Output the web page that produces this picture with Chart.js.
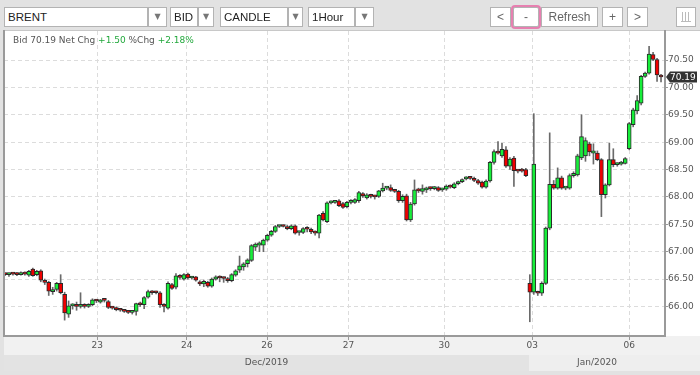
<!DOCTYPE html>
<html><head><meta charset="utf-8">
<script src="https://cdn.jsdelivr.net/npm/chart.js@4.4.1/dist/chart.umd.min.js"></script>
<style>
html,body{margin:0;padding:0;background:#e4e4e4;}
#wrap{position:relative;width:700px;height:375px;overflow:hidden;}
#c{position:absolute;left:0;top:0;}
.sel,.dd,.btn{position:absolute;top:7px;height:20px;box-sizing:border-box;background:#fff;border:1px solid #b3b3b3;font-family:"Liberation Sans",Arial,sans-serif;}
.sel{font-size:11.5px;line-height:18px;color:#222;padding-left:3px;}
.dd{font-family:"DejaVu Sans";font-size:8px;line-height:18px;color:#777;text-align:center;}
.btn{font-size:12px;line-height:18px;color:#666;text-align:center;}
.hl{box-shadow:0 0 0 2px #e680b0;border-radius:2px;}
#hdr{position:absolute;left:13px;top:35px;font-family:"DejaVu Sans";font-size:9px;line-height:11px;color:#555;white-space:pre;}
#hdr .g{color:#22a83c;}
.ic{position:absolute;top:4px;width:1px;height:9px;background:#bbb;}
</style></head>
<body>
<div id="wrap">
<canvas id="c" width="700" height="375"></canvas>
<div class="sel" style="left:4px;width:144px;">BRENT</div><div class="dd" style="left:148px;width:19px;">▼</div>
<div class="sel" style="left:170px;width:28px;">BID</div><div class="dd" style="left:198px;width:16px;">▼</div>
<div class="sel" style="left:220px;width:68px;">CANDLE</div><div class="dd" style="left:288px;width:15px;">▼</div>
<div class="sel" style="left:308px;width:47px;">1Hour</div><div class="dd" style="left:355px;width:19px;">▼</div>
<div class="btn" style="left:490px;width:21px;">&lt;</div>
<div class="btn hl" style="left:513px;width:26px;">-</div>
<div class="btn" style="left:541px;width:57px;">Refresh</div>
<div class="btn" style="left:602px;width:21px;">+</div>
<div class="btn" style="left:627px;width:21px;">&gt;</div>
<div class="btn" style="left:676px;width:20px;"><span class="ic" style="left:5px"></span><span class="ic" style="left:8px"></span><span class="ic" style="left:11px"></span><span class="ic" style="left:4px;top:13px;width:10px;height:1px"></span></div>
<div id="hdr">Bid 70.19 Net Chg <span class="g">+1.50</span> %Chg <span class="g">+2.18%</span></div>
</div>
<script>
// ---- data (hourly candles, BRENT bid) ----
const opens = [66.59,66.58,66.60,66.59,66.58,66.61,66.57,66.68,66.58,66.65,66.47,66.44,66.27,66.31,66.42,66.22,65.86,66.01,66.02,66.00,
66.01,66.00,66.03,66.12,66.08,66.12,66.09,65.98,65.98,65.94,65.93,65.91,65.89,65.91,66.04,66.03,66.17,66.27,66.26,66.25,
66.03,65.97,66.40,66.35,66.56,66.50,66.59,66.52,66.54,66.45,66.41,66.44,66.37,66.50,66.54,66.52,66.51,66.47,66.57,66.66,
66.72,66.78,66.84,67.08,67.12,67.12,67.21,67.30,67.37,67.46,67.47,67.46,67.42,67.47,67.35,67.35,67.42,67.41,67.36,67.34,
67.70,67.55,67.89,67.90,67.93,67.88,67.82,67.90,67.90,67.93,68.06,67.98,68.03,68.01,68.01,68.11,68.16,68.17,68.12,68.10,
67.93,68.02,67.58,67.87,68.13,68.10,68.13,68.16,68.15,68.17,68.13,68.14,68.19,68.17,68.24,68.28,68.33,68.35,68.34,68.30,
68.27,68.18,68.29,68.63,68.83,68.75,68.86,68.56,68.71,68.48,68.50,68.50,66.42,66.26,66.26,66.24,66.42,67.43,68.23,68.16,
68.35,68.16,68.16,68.39,68.40,68.71,68.75,68.97,68.80,68.80,68.68,68.04,68.22,68.68,68.59,68.60,68.61,68.88,69.32,69.57,
69.71,70.20,70.26,70.60,70.51,70.22];
const highs = [66.61,66.61,66.62,66.62,66.63,66.63,66.66,66.70,66.66,66.67,66.50,66.46,66.35,66.44,66.58,66.26,66.10,66.05,66.08,66.25,
66.05,66.05,66.14,66.13,66.13,66.13,66.11,66.00,65.99,65.96,65.94,65.92,65.91,66.06,66.08,66.18,66.30,66.29,66.28,66.27,
66.05,66.45,66.42,66.60,66.58,66.60,66.61,66.55,66.55,66.47,66.48,66.46,66.52,66.56,66.56,66.54,66.53,66.60,66.67,66.92,
66.80,66.87,67.13,67.16,67.18,67.23,67.32,67.39,67.48,67.48,67.49,67.48,67.49,67.49,67.37,67.44,67.46,67.43,67.38,67.68,
67.73,67.91,67.93,67.93,67.95,67.90,67.92,67.95,67.97,68.10,68.08,68.06,68.05,68.03,68.12,68.25,68.19,68.22,68.14,68.12,
68.04,68.05,67.90,68.31,68.16,68.22,68.18,68.18,68.19,68.19,68.16,68.22,68.22,68.26,68.29,68.33,68.37,68.37,68.36,68.32,
68.29,68.31,68.65,68.86,69.01,68.98,68.92,68.72,68.74,68.50,68.52,68.52,66.58,69.52,66.28,66.45,67.45,69.17,68.30,68.53,
68.38,68.18,68.42,68.46,68.78,69.50,69.08,69.00,68.97,68.84,68.70,68.24,68.98,68.88,68.62,68.65,68.72,69.36,69.62,69.85,
70.22,70.28,70.75,70.64,70.53,70.24];
const lows = [66.56,66.55,66.57,66.56,66.57,66.57,66.55,66.55,66.56,66.45,66.40,66.20,66.22,66.28,66.23,65.75,65.80,65.95,65.93,65.97,
65.97,65.98,66.01,66.07,66.06,66.08,65.96,65.95,65.92,65.91,65.89,65.87,65.86,65.84,66.00,65.96,66.15,66.22,66.23,65.98,
65.90,65.95,66.31,66.32,66.50,66.48,66.50,66.50,66.46,66.38,66.36,66.35,66.35,66.48,66.45,66.44,66.44,66.45,66.55,66.62,
66.66,66.72,66.82,67.02,67.00,67.00,67.19,67.28,67.35,67.44,67.45,67.40,67.40,67.32,67.30,67.33,67.36,67.33,67.30,67.25,
67.56,67.53,67.87,67.88,67.82,67.79,67.80,67.87,67.88,67.90,67.99,67.96,67.98,67.96,67.99,68.09,68.13,68.10,68.08,67.90,
67.90,67.56,67.55,67.85,68.08,68.05,68.08,68.12,68.13,68.10,68.10,68.12,68.16,68.15,68.22,68.26,68.31,68.32,68.28,68.23,
68.16,68.16,68.27,68.60,68.78,68.72,68.54,68.50,68.19,68.44,68.45,68.37,65.72,66.22,66.20,66.20,66.40,67.40,68.14,68.14,
68.14,68.13,68.14,68.36,68.38,68.68,68.65,68.75,68.60,68.66,67.64,67.98,68.20,68.55,68.56,68.58,68.60,68.86,69.28,69.52,
69.68,70.18,70.24,70.49,70.11,70.10];
const closes = [66.58,66.60,66.59,66.58,66.61,66.59,66.64,66.56,66.64,66.48,66.44,66.28,66.31,66.42,66.25,65.88,66.01,66.02,66.00,66.01,
66.00,66.03,66.12,66.10,66.12,66.11,65.98,65.97,65.94,65.93,65.91,65.89,65.90,66.05,66.03,66.16,66.27,66.25,66.25,66.03,
66.00,66.42,66.33,66.56,66.53,66.58,66.52,66.53,66.48,66.41,66.46,66.37,66.50,66.54,66.52,66.51,66.47,66.58,66.65,66.74,
66.78,66.85,67.11,67.14,67.16,67.21,67.30,67.37,67.46,67.47,67.46,67.42,67.47,67.34,67.35,67.42,67.41,67.36,67.34,67.67,
67.58,67.89,67.90,67.91,67.84,67.81,67.90,67.92,67.95,68.08,68.02,68.04,68.01,68.00,68.11,68.16,68.17,68.12,68.10,67.93,
68.01,67.58,67.87,68.13,68.11,68.15,68.16,68.15,68.18,68.12,68.14,68.20,68.18,68.24,68.28,68.31,68.35,68.34,68.30,68.25,
68.18,68.29,68.63,68.83,68.80,68.87,68.56,68.69,68.48,68.47,68.47,68.39,66.26,68.60,66.24,66.42,67.43,68.23,68.16,68.35,
68.16,68.16,68.39,68.43,68.75,69.10,69.03,68.82,68.84,68.68,68.04,68.22,68.68,68.59,68.60,68.63,68.70,69.34,69.59,69.76,
70.20,70.26,70.61,70.51,70.23,70.19];
const xTickPos = [23.2, 45.7, 65.9, 86.4, 110.5, 132.6, 157.0];
const xTickLabels = ['23','24','26','27','30','03','06'];
const yTickValues = [66.0, 66.5, 67.0, 67.5, 68.0, 68.5, 69.0, 69.5, 70.0, 70.5];
const monthLabels = ['Dec/2019', 'Jan/2020'];
const monthStarts = [-0.25, 131.8];
const lastPrice = 70.19;

const GREEN = '#17ee3a', RED = '#f00000';
const FONT = {family: 'DejaVu Sans', size: 9};

const framePlugin = {
  id: 'frame',
  beforeDraw(chart) {
    const {ctx, chartArea: a, width, height} = chart;
    ctx.save();
    ctx.fillStyle = '#e2e2e2'; ctx.fillRect(0, 0, width, height);
    ctx.fillStyle = '#ffffff'; ctx.fillRect(a.left, 30, width - a.left, a.bottom - 30);
    ctx.fillStyle = '#f1f1f1'; ctx.fillRect(a.left, a.bottom, width - a.left, 19);
    const xs = chart.scales.x;
    const bx = xs.getPixelForValue(monthStarts[1]);
    ctx.fillStyle = '#e3e3e3'; ctx.fillRect(a.left, a.bottom + 19, bx - a.left, 16);
    ctx.fillStyle = '#eeeeee'; ctx.fillRect(bx, a.bottom + 19, width - bx, 16);
    ctx.strokeStyle = '#c8c8c8'; ctx.lineWidth = 1;
    ctx.beginPath(); ctx.moveTo(a.left, 30.5); ctx.lineTo(width, 30.5); ctx.stroke();
    ctx.restore();
  },
  afterDraw(chart) {
    const {ctx, chartArea: a} = chart;
    const xs = chart.scales.x, ys = chart.scales.y;
    ctx.save();
    ctx.strokeStyle = '#9a9a9a'; ctx.lineWidth = 2;
    ctx.beginPath(); ctx.moveTo(a.left, 30); ctx.lineTo(a.left, a.bottom); ctx.stroke();
    // month labels
    ctx.font = '9px "DejaVu Sans"'; ctx.fillStyle = '#555'; ctx.textAlign = 'center'; ctx.textBaseline = 'middle';
    for (let m = 0; m < monthLabels.length; m++) {
      const x0 = Math.max(a.left, xs.getPixelForValue(monthStarts[m]));
      const x1 = m + 1 < monthStarts.length ? xs.getPixelForValue(monthStarts[m + 1]) : a.right;
      ctx.fillText(monthLabels[m], (x0 + x1) / 2, a.bottom + 27);
    }
    // last price tag
    const py = ys.getPixelForValue(lastPrice);
    const x0 = a.right + 1, x1 = 697;
    ctx.fillStyle = '#333';
    ctx.beginPath();
    ctx.moveTo(x0, py); ctx.lineTo(x0 + 4, py - 5.5); ctx.lineTo(x1, py - 5.5); ctx.lineTo(x1, py + 5.5); ctx.lineTo(x0 + 4, py + 5.5); ctx.closePath(); ctx.fill();
    ctx.fillStyle = '#fff'; ctx.textAlign = 'left';
    ctx.fillText(lastPrice.toFixed(2), x0 + 4, py + 0.5);
    ctx.restore();
  }
};

new Chart(document.getElementById('c'), {
  type: 'bar',
  data: {
    datasets: [
      {
        label: 'body', order: 0, grouped: false,
        data: opens.map((o, i) => ({x: i, y: [o, closes[i]]})),
        backgroundColor: opens.map((o, i) => closes[i] >= o ? GREEN : RED),
        borderColor: '#2a2a2a', borderWidth: 1, borderSkipped: false,
        barThickness: 4, minBarLength: 2
      },
      {
        label: 'wick', order: 1, grouped: false,
        data: lows.map((l, i) => ({x: i, y: [l, highs[i]]})),
        backgroundColor: '#6a6a6a', borderWidth: 0, barThickness: 1
      }
    ]
  },
  options: {
    responsive: false, animation: false, devicePixelRatio: 1,
    layout: {padding: {left: 4, top: 31, right: 0, bottom: 0}},
    plugins: {legend: {display: false}, tooltip: {enabled: false}},
    scales: {
      x: {
        type: 'linear', min: -0.25, max: 166, offset: false,
        afterBuildTicks: s => { s.ticks = xTickPos.map(v => ({value: v})); },
        afterFit: s => { s.height = 39; },
        ticks: {autoSkip: false, maxRotation: 0, font: FONT, color: '#555', padding: 0,
                callback: (v, idx) => xTickLabels[idx]},
        grid: {color: '#dcdcdc', offset: false, tickColor: '#999', tickLength: 4},
        border: {color: '#9a9a9a', width: 2, dash: [4, 3]}
      },
      y: {
        type: 'linear', position: 'right', min: 65.46, max: 71.03,
        afterBuildTicks: s => { s.ticks = yTickValues.map(v => ({value: v})); },
        afterFit: s => { s.width = 35; },
        ticks: {font: FONT, color: '#555', padding: 0, callback: v => Number(v).toFixed(2)},
        grid: {color: '#dcdcdc', tickColor: '#999', tickLength: 3},
        border: {color: '#9a9a9a', width: 2, dash: [4, 3]}
      }
    }
  },
  plugins: [framePlugin]
});
</script>
</body></html>
